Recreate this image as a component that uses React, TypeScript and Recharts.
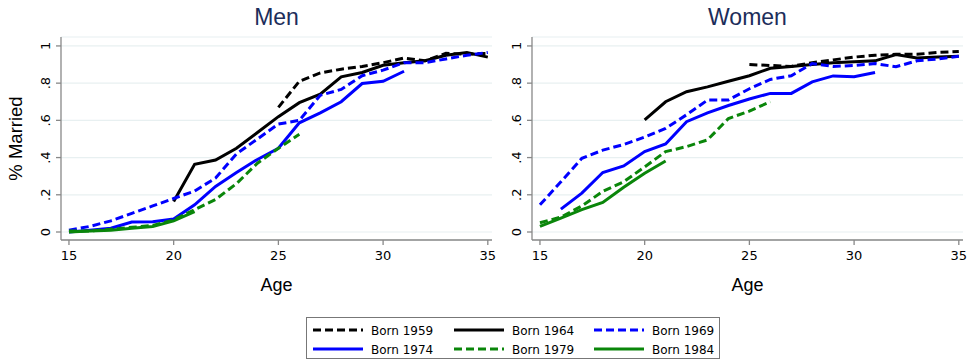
import { LineChart, Line, XAxis, YAxis, CartesianGrid } from 'recharts'

const ages = [15, 16, 17, 18, 19, 20, 21, 22, 23, 24, 25, 26, 27, 28, 29, 30, 31, 32, 33, 34, 35]
const ageTicks = [15, 20, 25, 30, 35]
const shareTicks = [0, 0.2, 0.4, 0.6, 0.8, 1]
const cohorts = ['Born 1959', 'Born 1964', 'Born 1969', 'Born 1974', 'Born 1979', 'Born 1984']

type Val = number | null
const _ = null

// men, one value per age 15..35
const men1959: Val[] = [_, _, _, _, _, _, _, _, _, _, 0.67, 0.81, 0.855, 0.875, 0.89, 0.91, 0.935, 0.92, 0.96, 0.955, 0.96]
const men1964: Val[] = [_, _, _, _, _, 0.164, 0.364, 0.387, 0.45, 0.535, 0.62, 0.695, 0.741, 0.834, 0.857, 0.896, 0.91, 0.92, 0.95, 0.965, 0.94]
const men1969: Val[] = [0.01, 0.03, 0.06, 0.1, 0.14, 0.18, 0.22, 0.29, 0.42, 0.5, 0.58, 0.6, 0.735, 0.766, 0.84, 0.87, 0.91, 0.91, 0.93, 0.95, 0.965]
const men1974: Val[] = [0.0, 0.01, 0.02, 0.054, 0.055, 0.07, 0.146, 0.245, 0.32, 0.39, 0.45, 0.587, 0.64, 0.7, 0.798, 0.81, 0.864, _, _, _, _]
const men1979: Val[] = [0.005, 0.005, 0.015, 0.025, 0.035, 0.065, 0.12, 0.175, 0.26, 0.37, 0.45, 0.525, _, _, _, _, _, _, _, _, _]
const men1984: Val[] = [0.0, 0.005, 0.01, 0.02, 0.03, 0.06, 0.11, _, _, _, _, _, _, _, _, _, _, _, _, _, _]

// women
const women1959: Val[] = [_, _, _, _, _, _, _, _, _, _, 0.9, 0.895, 0.89, 0.91, 0.925, 0.94, 0.95, 0.955, 0.955, 0.965, 0.97]
const women1964: Val[] = [_, _, _, _, _, 0.602, 0.7, 0.754, 0.78, 0.81, 0.84, 0.88, 0.89, 0.9, 0.91, 0.915, 0.92, 0.954, 0.935, 0.94, 0.945]
const women1969: Val[] = [0.146, 0.27, 0.396, 0.44, 0.47, 0.51, 0.557, 0.63, 0.709, 0.71, 0.77, 0.82, 0.84, 0.905, 0.89, 0.895, 0.905, 0.888, 0.92, 0.93, 0.945]
const women1974: Val[] = [_, 0.123, 0.209, 0.32, 0.355, 0.432, 0.473, 0.593, 0.64, 0.68, 0.715, 0.745, 0.745, 0.807, 0.839, 0.834, 0.857, _, _, _, _]
const women1979: Val[] = [0.05, 0.08, 0.14, 0.218, 0.27, 0.35, 0.432, 0.459, 0.495, 0.61, 0.65, 0.7, _, _, _, _, _, _, _, _, _]
const women1984: Val[] = [0.03, 0.075, 0.12, 0.159, 0.24, 0.316, 0.382, _, _, _, _, _, _, _, _, _, _, _, _, _, _]

const styles = [
  { color: '#000000', dash: '8 4' },
  { color: '#000000', dash: undefined },
  { color: '#0000ff', dash: '8 4' },
  { color: '#0000ff', dash: undefined },
  { color: '#0a860a', dash: '8 4' },
  { color: '#0a860a', dash: undefined },
]

const build = (series: Val[][]) =>
  ages.map((age, i) => {
    const row: Record<string, number | null> = { age }
    series.forEach((s, k) => { row['c' + k] = s[i] })
    return row
  })

const menData = build([men1959, men1964, men1969, men1974, men1979, men1984])
const womenData = build([women1959, women1964, women1969, women1974, women1979, women1984])

const fmtShare = (v: number) => (v === 0 ? '0' : v === 1 ? '1' : String(v).replace(/^0/, ''))

const YTick = (props: any) => {
  const { x, y, payload } = props
  return (
    <text x={x} y={y} transform={`rotate(-90 ${x} ${y})`} textAnchor="middle"
      fontSize={13} fontFamily="DejaVu Sans" fill="#000">
      {fmtShare(payload.value)}
    </text>
  )
}

function Panel({ title, data, left }: { title: string; data: any[]; left: number }) {
  return (
    <div style={{ position: 'absolute', left, top: 0 }}>
      <div style={{
        position: 'absolute', left: 61, width: 431, top: 4, textAlign: 'center',
        fontFamily: 'Liberation Sans', fontSize: 23, color: '#1c2d5a',
      }}>{title}</div>
      <LineChart width={502} height={300} data={data}
        margin={{ top: 37, right: 10, left: 0, bottom: 0 }}>
        <CartesianGrid vertical={false} stroke="#e8f0f1" strokeWidth={1.2} />
        <XAxis dataKey="age" type="number" domain={[14.62, 35.2]} ticks={ageTicks}
          allowDataOverflow height={60} stroke="#888" strokeWidth={1.3}
          tickSize={5} tickMargin={6}
          tick={{ fontSize: 13, fontFamily: 'DejaVu Sans', fill: '#000' }}
          label={{ value: 'Age', position: 'insideBottom', offset: 9, fontSize: 18, fontFamily: 'Liberation Sans', fill: '#000' }} />
        <YAxis type="number" domain={[-0.043, 1.048]} ticks={shareTicks} allowDataOverflow
          width={61} stroke="#888" strokeWidth={1.3} tickSize={5} tickMargin={6}
          tick={<YTick />}
          label={left === 0 ? { value: '% Married', angle: -90, position: 'insideLeft', offset: 15, fontSize: 18.5, fontFamily: 'Liberation Sans', fill: '#000', style: { textAnchor: 'middle' } } : undefined} />
        {styles.map((s, k) => (
          <Line key={k} dataKey={'c' + k} stroke={s.color} strokeWidth={3}
            strokeDasharray={s.dash} dot={false} isAnimationActive={false} />
        ))}
      </LineChart>
    </div>
  )
}

function LegendBox() {
  const colX = [0, 141, 281]
  return (
    <div style={{
      position: 'absolute', left: 306, top: 317, width: 414, height: 42,
      border: '1px solid #777', boxSizing: 'border-box', background: '#fff',
    }}>
      <svg width={412} height={40}>
        {cohorts.map((name, k) => {
          const col = k % 3
          const row = Math.floor(k / 3)
          const x = colX[col] + 6
          const y = 12 + row * 19
          return (
            <g key={name}>
              <line x1={x} x2={x + 50} y1={y} y2={y} stroke={styles[k].color}
                strokeWidth={3} strokeDasharray={styles[k].dash} />
              <text x={x + 58} y={y + 4.5} fontSize={12} fontFamily="DejaVu Sans" fill="#000">{name}</text>
            </g>
          )
        })}
      </svg>
    </div>
  )
}

export default function App() {
  return (
    <div style={{ position: 'absolute', left: 0, top: 0, width: 973, height: 362, background: '#fff', overflow: 'hidden' }}>
      <Panel title="Men" data={menData} left={0} />
      <Panel title="Women" data={womenData} left={471} />
      <LegendBox />
    </div>
  )
}
